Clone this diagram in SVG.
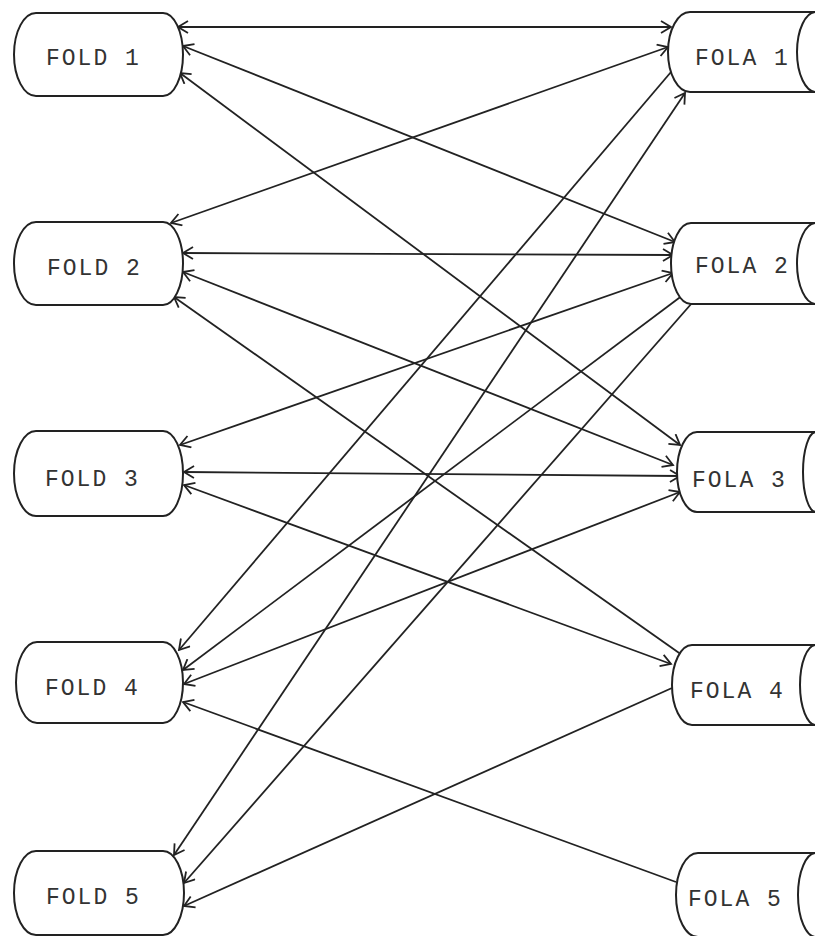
<svg xmlns="http://www.w3.org/2000/svg" width="815" height="936" viewBox="0 0 815 936">
  <style>
    .node { fill: #ffffff; stroke: #222; stroke-width: 2; }
    .inner { fill: none; stroke: #222; stroke-width: 2; }
    .lbl { font-family: "Liberation Mono", "DejaVu Sans Mono", monospace; font-size: 23px; letter-spacing: 2px; fill: #333; }
    .c { stroke: #222; stroke-width: 1.8; fill: none; }
    .bi { marker-start: url(#arr); marker-end: url(#arr); }
    .l { marker-start: url(#arr); }
  </style>
  <defs>
    <marker id="arr" viewBox="-1 -7 13 14" refX="10" refY="0" markerWidth="13" markerHeight="14" markerUnits="userSpaceOnUse" orient="auto-start-reverse">
      <path d="M0,-6 L10,0 L0,6" fill="none" stroke="#222" stroke-width="1.8"/>
    </marker>
  </defs>
  <rect width="815" height="936" fill="#ffffff"/>

  <g id="connectors">
    <line class="c bi" x1="178" y1="27" x2="671" y2="27"/>
    <line class="c bi" x1="183" y1="46" x2="675" y2="242"/>
    <line class="c bi" x1="180" y1="73" x2="680" y2="445"/>
    <line class="c bi" x1="171" y1="223" x2="668" y2="47"/>
    <line class="c bi" x1="183" y1="253" x2="673" y2="255"/>
    <line class="c bi" x1="183" y1="272" x2="673" y2="465"/>
    <line class="c l" x1="174" y1="297" x2="682" y2="655"/>
    <line class="c bi" x1="180" y1="445" x2="673" y2="273"/>
    <line class="c bi" x1="184" y1="472" x2="680" y2="476"/>
    <line class="c bi" x1="184" y1="485" x2="671" y2="664"/>
    <line class="c l" x1="179" y1="650" x2="671" y2="72"/>
    <line class="c l" x1="183" y1="670" x2="683" y2="295"/>
    <line class="c bi" x1="184" y1="684" x2="680" y2="492"/>
    <line class="c l" x1="183" y1="702" x2="676" y2="882"/>
    <line class="c bi" x1="174" y1="855" x2="685" y2="93"/>
    <line class="c l" x1="184" y1="883" x2="692" y2="303"/>
    <line class="c l" x1="184" y1="906" x2="672" y2="688"/>
  </g>

  <g id="fold1">
    <path class="node" d="M36,13 H163 A20,41.5 0 0 1 163,96 H36 A22,41.5 0 0 1 36,13 Z"/>
    <text class="lbl" x="46" y="65">FOLD 1</text>
  </g>
  <g id="fold2">
    <path class="node" d="M36,222 H163 A20,41.5 0 0 1 163,305 H36 A22,41.5 0 0 1 36,222 Z"/>
    <text class="lbl" x="47" y="275">FOLD 2</text>
  </g>
  <g id="fold3">
    <path class="node" d="M36,431 H163 A20,42.5 0 0 1 163,516 H36 A22,42.5 0 0 1 36,431 Z"/>
    <text class="lbl" x="45" y="486">FOLD 3</text>
  </g>
  <g id="fold4">
    <path class="node" d="M37,642 H163 A20,40.5 0 0 1 163,723 H37 A21,40.5 0 0 1 37,642 Z"/>
    <text class="lbl" x="45" y="695">FOLD 4</text>
  </g>
  <g id="fold5">
    <path class="node" d="M36,851 H163 A21,42 0 0 1 163,935 H36 A22,42 0 0 1 36,851 Z"/>
    <text class="lbl" x="46" y="904">FOLD 5</text>
  </g>

  <g id="fola1">
    <path class="node" d="M820,12 H690 A22,40 0 0 0 690,92 H820"/>
    <path class="inner" d="M816,12 A19,40 0 0 0 816,92"/>
    <text class="lbl" x="695" y="65">FOLA 1</text>
  </g>
  <g id="fola2">
    <path class="node" d="M820,223 H691 A20,40.5 0 0 0 691,304 H820"/>
    <path class="inner" d="M816,223 A19,40.5 0 0 0 816,304"/>
    <text class="lbl" x="695" y="273">FOLA 2</text>
  </g>
  <g id="fola3">
    <path class="node" d="M820,432 H697 A20,40 0 0 0 697,512 H820"/>
    <path class="inner" d="M816,432 A13,40 0 0 0 816,512"/>
    <text class="lbl" x="692" y="487">FOLA 3</text>
  </g>
  <g id="fola4">
    <path class="node" d="M820,645 H692 A20,40 0 0 0 692,725 H820"/>
    <path class="inner" d="M816,645 A16,40 0 0 0 816,725"/>
    <text class="lbl" x="690" y="698">FOLA 4</text>
  </g>
  <g id="fola5">
    <path class="node" d="M820,853 H698 A22,42 0 0 0 698,937 H820"/>
    <path class="inner" d="M816,853 A18,42 0 0 0 816,937"/>
    <text class="lbl" x="688" y="906">FOLA 5</text>
  </g>
</svg>
